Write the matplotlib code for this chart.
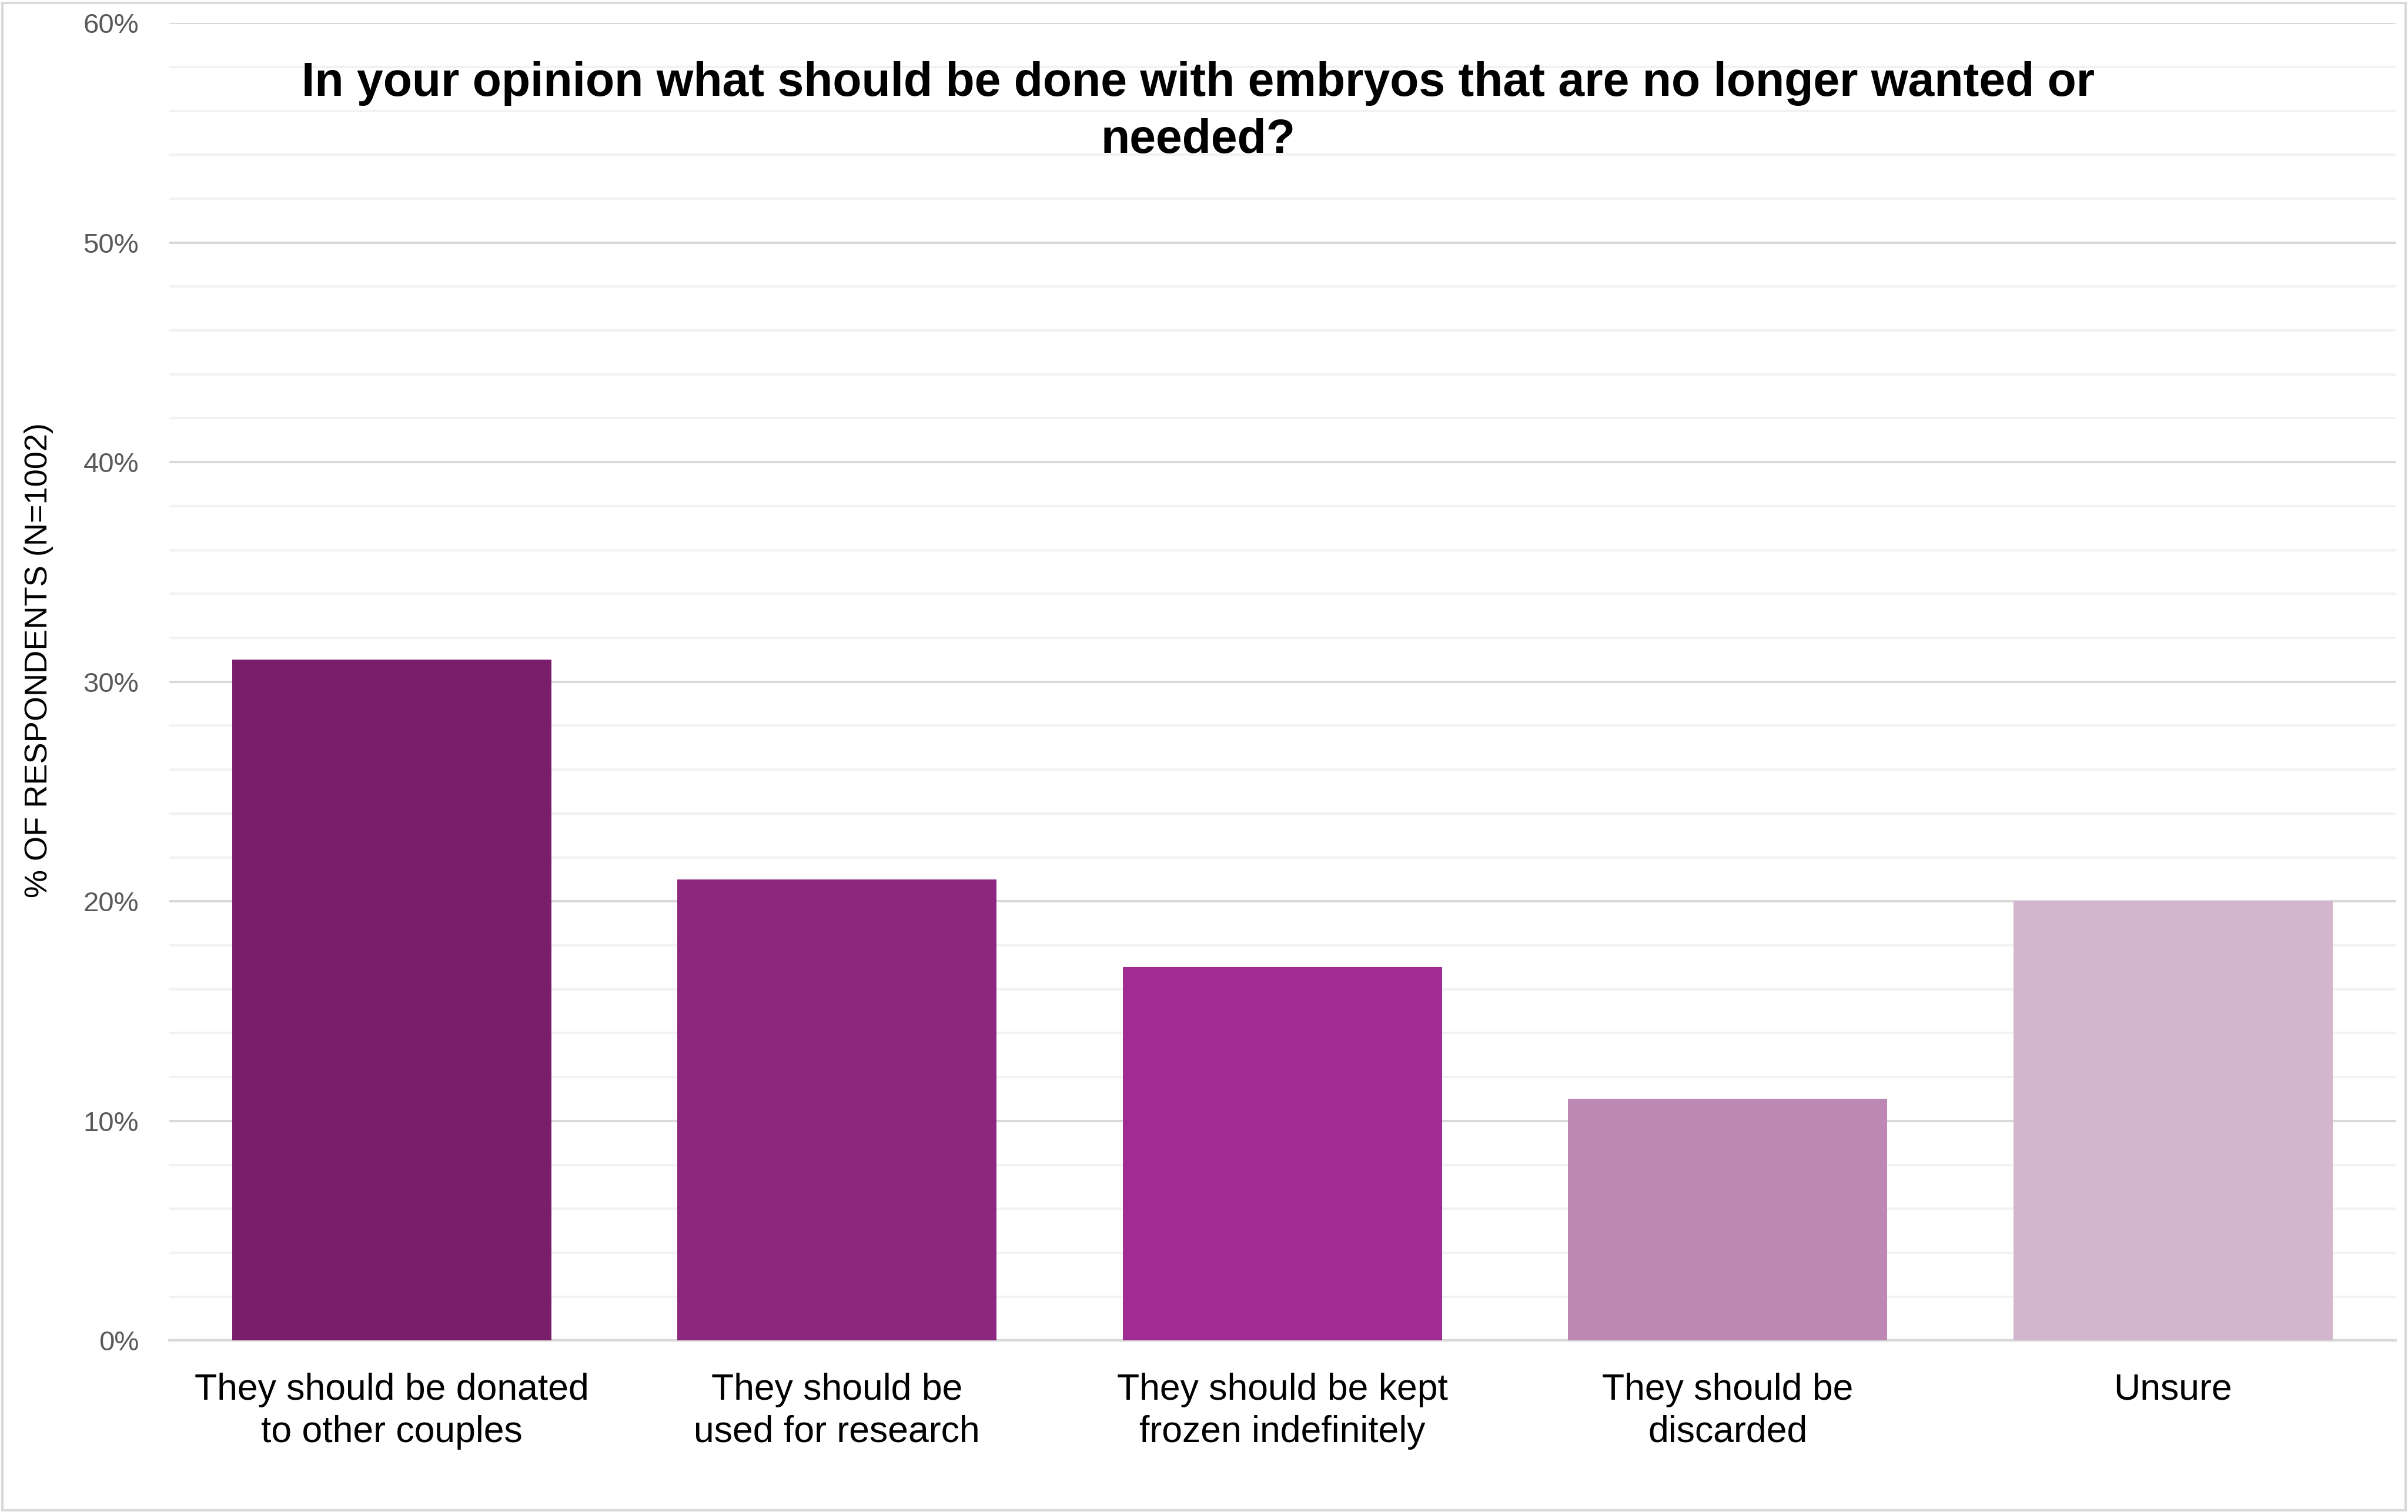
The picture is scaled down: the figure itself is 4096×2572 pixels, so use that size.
import numpy as np
import matplotlib
matplotlib.use('Agg')
import matplotlib.pyplot as plt
from matplotlib.patches import Rectangle
from matplotlib.ticker import MultipleLocator, PercentFormatter

plt.rcParams['font.family'] = ['Liberation Sans', 'DejaVu Sans']

# Data
categories = ['They should be donated\nto other couples',
              'They should be\nused for research',
              'They should be kept\nfrozen indefinitely',
              'They should be\ndiscarded',
              'Unsure']
percent = [31, 21, 17, 11, 20]
bar_colors = ['#7A1E6C', '#8C267F', '#A02B93', '#BE88B5', '#D3B5CD']

title = 'In your opinion what should be done with embryos that are no longer wanted or\nneeded?'
ylabel = '% OF RESPONDENTS (N=1002)'

fig = plt.figure(figsize=(40.96, 25.72), dpi=100)
ax = fig.add_axes([0.0702, 0.1134, 0.9247, 0.8714])

x = np.arange(len(categories))
ax.bar(x, percent, width=0.717, color=bar_colors, zorder=3)

ax.set_xlim(-0.5, len(categories) - 0.5)
ax.set_ylim(0, 60)
ax.yaxis.set_major_locator(MultipleLocator(10))
ax.yaxis.set_minor_locator(MultipleLocator(2))
ax.yaxis.set_major_formatter(PercentFormatter(decimals=0))
ax.grid(which='major', axis='y', color='#D9D9D9', linewidth=3, zorder=0)
ax.grid(which='minor', axis='y', color='#F2F2F2', linewidth=3, zorder=0)
ax.set_axisbelow(True)

for s in ['top', 'right', 'left']:
    ax.spines[s].set_visible(False)
ax.spines['bottom'].set_color('#D9D9D9')
ax.spines['bottom'].set_linewidth(3)

ax.set_xticks(x)
ax.set_xticklabels(categories, fontsize=45, color='black', linespacing=1.29)
ax.tick_params(axis='x', length=0, pad=39)
ax.tick_params(axis='y', which='both', length=0, labelsize=34, labelcolor='#595959', pad=37)

# y axis title, placed in figure coords
fig.text(0.016, 0.5633, ylabel, rotation=90, ha='center', va='center',
         fontsize=39, color='black')

fig.text(0.4975, 0.9259, title, ha='center', va='center', fontsize=58,
         fontweight='bold', color='black', linespacing=1.36)

# outer chart border
fig.patches.append(Rectangle((0.001, 0.001), 0.998, 0.997, transform=fig.transFigure,
                             fill=False, edgecolor='#D9D9D9', linewidth=3))

plt.savefig('out.png', dpi=100, facecolor='white')
plt.close()
